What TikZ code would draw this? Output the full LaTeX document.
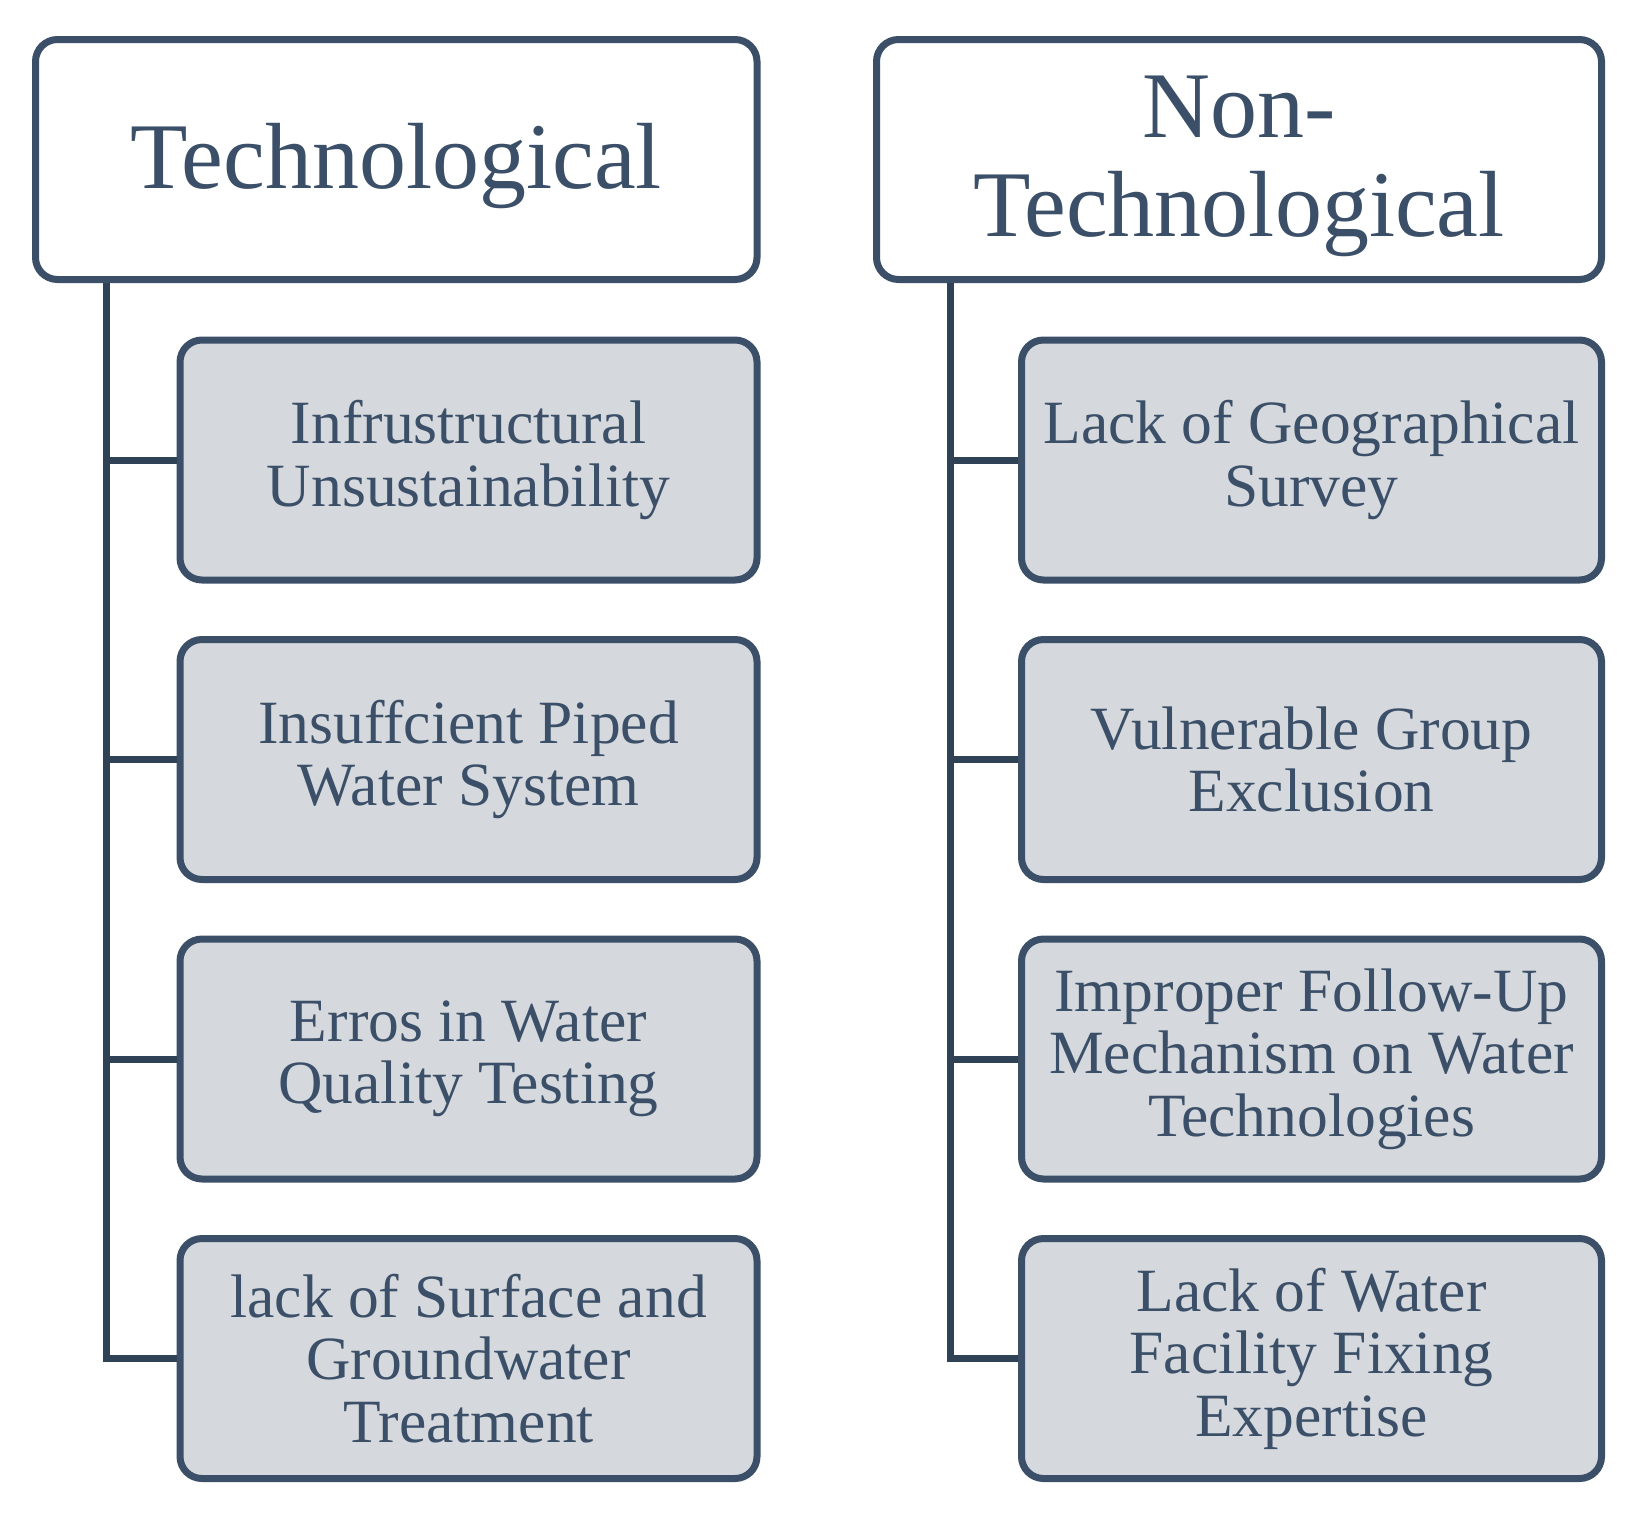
\documentclass[tikz,border=0pt]{standalone}
\usepackage{fontspec}
\setmainfont{Liberation Serif}
\definecolor{edge}{RGB}{59,80,104}
\definecolor{trunk}{RGB}{48,66,86}
\definecolor{boxfill}{RGB}{213,216,220}
\begin{document}
\begin{tikzpicture}[x=1pt,y=-1pt,
  head/.style={draw=edge,line width=7pt,rounded corners=22pt,fill=white,
    minimum height=240pt,align=center,text=edge,inner sep=0pt,
    font=\fontsize{94}{99}\selectfont},
  item/.style={draw=edge,line width=7pt,rounded corners=22pt,fill=boxfill,
    minimum height=240pt,align=center,text=edge,inner sep=0pt,
    font=\fontsize{61.5}{62.5}\selectfont},
  link/.style={draw=trunk,line width=7pt}]
\useasboundingbox (0,0) rectangle (1625,1516);
\node[head,minimum width=721.5pt] (T) at (396.25,159.5) {\rule{0pt}{78pt}Technological};
\node[head,minimum width=725pt] (N) at (1239,159.5) {\rule{0pt}{76pt}Non-\\Technological};
\node[item,minimum width=577pt] (t1) at (468.5,460) {Infrustructural\\Unsustainability};
\node[item,minimum width=577pt] (t2) at (468.5,759.5) {Insuffcient Piped\\Water System};
\node[item,minimum width=577pt] (t3) at (468.5,1059) {Erros in Water\\Quality Testing};
\node[item,minimum width=577pt] (t4) at (468.5,1358.5) {lack of Surface and\\Groundwater\\Treatment};
\node[item,minimum width=580pt] (n1) at (1311.5,460) {Lack of Geographical\\Survey};
\node[item,minimum width=580pt] (n2) at (1311.5,759.5) {Vulnerable Group\\Exclusion};
\node[item,minimum width=580pt] (n3) at (1311.5,1059) {Improper Follow-Up\\Mechanism on Water\\Technologies};
\node[item,minimum width=580pt] (n4) at (1311.5,1358.5) {Lack of Water\\Facility Fixing\\Expertise};
\coordinate (ta) at (106.5,283);
\coordinate (na) at (950.5,283);
\draw[link] (ta) |- (t4.west);
\draw[link] (ta|-t1.west) -- (t1.west);
\draw[link] (ta|-t2.west) -- (t2.west);
\draw[link] (ta|-t3.west) -- (t3.west);
\draw[link] (na) |- (n4.west);
\draw[link] (na|-n1.west) -- (n1.west);
\draw[link] (na|-n2.west) -- (n2.west);
\draw[link] (na|-n3.west) -- (n3.west);
\end{tikzpicture}
\end{document}
